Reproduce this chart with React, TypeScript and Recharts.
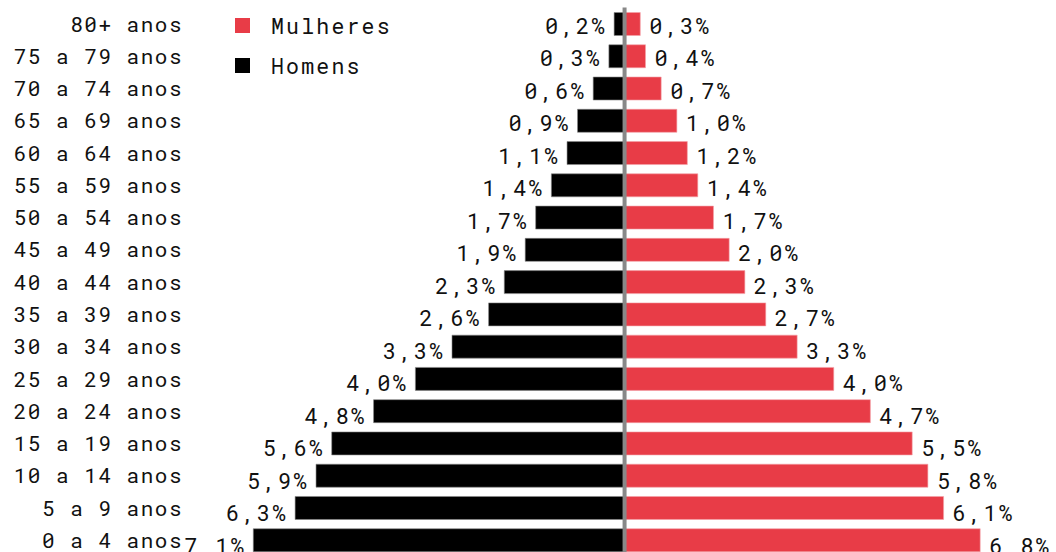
import React from "react";
import { BarChart, Bar, XAxis, YAxis, ReferenceLine, Legend, LabelList } from "recharts";

const ageGroups = [
  "80+ anos", "75 a 79 anos", "70 a 74 anos", "65 a 69 anos", "60 a 64 anos",
  "55 a 59 anos", "50 a 54 anos", "45 a 49 anos", "40 a 44 anos", "35 a 39 anos",
  "30 a 34 anos", "25 a 29 anos", "20 a 24 anos", "15 a 19 anos", "10 a 14 anos",
  "5 a 9 anos", "0 a 4 anos",
];
const homens = [0.2, 0.3, 0.6, 0.9, 1.1, 1.4, 1.7, 1.9, 2.3, 2.6, 3.3, 4.0, 4.8, 5.6, 5.9, 6.3, 7.1];
const mulheres = [0.3, 0.4, 0.7, 1.0, 1.2, 1.4, 1.7, 2.0, 2.3, 2.7, 3.3, 4.0, 4.7, 5.5, 5.8, 6.1, 6.8];

const data = ageGroups.map((g, i) => ({ grupo: g, Homens: -homens[i], Mulheres: mulheres[i] }));

const RED = "#e83c47";
const FONT = "'Roboto Mono', 'DejaVu Sans Mono', monospace";

const fmt = (v: number) => Math.abs(v).toFixed(1).replace(".", ",") + "%";

const CategoryTick = (props: any) => {
  const { x, y, payload } = props;
  return (
    <text x={x} y={y} textAnchor="end" dominantBaseline="central" fontFamily={FONT} fontSize={21} letterSpacing={1.5} fill="#111">
      {payload.value}
    </text>
  );
};

const makeLabel = (side: "left" | "right") => (props: any) => {
  const { x, y, width, height, value, index } = props;
  const left = Math.min(x, x + width);
  const right = Math.max(x, x + width);
  const cy = y + height / 2 + 1 + (index ?? 0) * 0.25;
  return (
    <text
      x={side === "left" ? left - 7 : right + 9}
      y={cy}
      textAnchor={side === "left" ? "end" : "start"}
      dominantBaseline="central"
      fontFamily={FONT}
      fontSize={22}
      letterSpacing={2.3}
      fill="#111"
    >
      {fmt(value)}
    </text>
  );
};

const legendItems = [
  { name: "Mulheres", color: RED },
  { name: "Homens", color: "#000" },
];

const LegendContent = () => (
  <div style={{ fontFamily: FONT }}>
    {legendItems.map((it) => (
      <div key={it.name} style={{ display: "flex", alignItems: "center", height: 40 }}>
        <div style={{ width: 15, height: 15, background: it.color }} />
        <span style={{ marginLeft: 21, fontSize: 21.5, letterSpacing: 2.2, color: "#111" }}>{it.name}</span>
      </div>
    ))}
  </div>
);

export default function App() {
  return (
    <div style={{ position: "absolute", left: 0, top: 0 }}>
      <BarChart
        width={1056}
        height={556}
        data={data}
        layout="vertical"
        stackOffset="sign"
        margin={{ top: 7.5, right: 0, bottom: 0, left: 0 }}
      >
        <XAxis type="number" hide domain={[-8.31, 8.25]} allowDataOverflow />
        <YAxis
          type="category"
          dataKey="grupo"
          width={190}
          axisLine={false}
          tickLine={false}
          tickSize={0}
          tickMargin={7}
          interval={0}
          tick={<CategoryTick />}
        />
        <Legend
          layout="horizontal"
          verticalAlign="middle"
          align="center"
          content={<LegendContent />}
          wrapperStyle={{ position: "absolute", left: 235, top: 5, width: 200, height: 80 }}
        />
        <Bar dataKey="Homens" stackId="a" fill="#000" stroke="#888" strokeOpacity={0.6} strokeWidth={1} barSize={23} isAnimationActive={false}>
          <LabelList dataKey="Homens" content={makeLabel("left")} />
        </Bar>
        <Bar dataKey="Mulheres" stackId="a" fill={RED} stroke="#f4a0a6" strokeOpacity={0.6} strokeWidth={1} barSize={23} isAnimationActive={false}>
          <LabelList dataKey="Mulheres" content={makeLabel("right")} />
        </Bar>
        <ReferenceLine x={0} stroke="#888" strokeWidth={4} />
      </BarChart>
    </div>
  );
}
